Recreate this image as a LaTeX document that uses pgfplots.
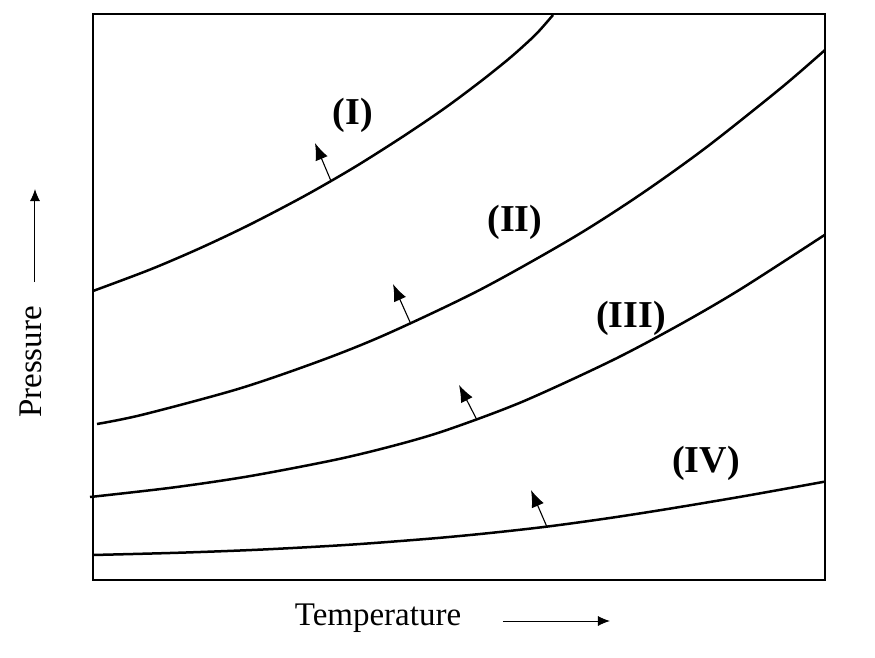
\documentclass[border=0pt]{standalone}
\usepackage{pgfplots}
\pgfplotsset{compat=1.18}
\usepackage{fontspec}
\setmainfont{Liberation Serif}
\usetikzlibrary{arrows.meta}

% curves, in picture pixels (x to the right, y downwards)
\pgfplotstableread{
px py
93 291
150 269.6
200 248.2
250 224.5
305 195.7
355 166.9
405 135.2
445 108
480 81.9
505 62
520 49.1
537 33.2
553 15
}\curveI
\pgfplotstableread{
px py
97 424
143 414.6
240 388.4
323 359.8
388 333.5
480 289.8
573 237.7
640 194.8
706 147.6
781 88
825 50
}\curveII
\pgfplotstableread{
px py
90 497
173 487.5
250 476.1
338 459.2
400 444
448 429.6
522 401.9
612 360.5
680 324.5
741 288.9
825 234.7
}\curveIII
\pgfplotstableread{
px py
93 555
180 552.7
263 549.5
350 544.7
433 538.4
490 533
547 526.6
607 518.4
667 509.1
745 496
825 481.6
}\curveIV

\begin{document}
\begin{tikzpicture}
\begin{axis}[
    scale only axis,
    width=366pt, height=283pt,
    xmin=93, xmax=825,
    ymin=14, ymax=580,
    y dir=reverse,
    xtick=\empty, ytick=\empty,
    axis line style={line width=1.3pt},
    clip=false,
]
\path (axis cs:0,0) rectangle (axis cs:875,658);

\addplot[black, line width=1.25pt, smooth] table[x=px, y=py] {\curveI};
\addplot[black, line width=1.25pt, smooth] table[x=px, y=py] {\curveII};
\addplot[black, line width=1.25pt, smooth] table[x=px, y=py] {\curveIII};
\addplot[black, line width=1.25pt, smooth] table[x=px, y=py] {\curveIV};

\draw[line width=0.55pt, -{Latex[length=8.5pt,width=6.5pt]}] (axis cs:331,181) -- (axis cs:315,143);
\draw[line width=0.55pt, -{Latex[length=8.5pt,width=6.5pt]}] (axis cs:410,322) -- (axis cs:393,284);
\draw[line width=0.55pt, -{Latex[length=8.5pt,width=6.5pt]}] (axis cs:477,420) -- (axis cs:459,385);
\draw[line width=0.55pt, -{Latex[length=8.5pt,width=6.5pt]}] (axis cs:547,527) -- (axis cs:531,490);

\node[font=\fontsize{19}{22}\selectfont\bfseries] at (axis cs:353,115) {(I)};
\node[font=\fontsize{19}{22}\selectfont\bfseries] at (axis cs:515,222) {(II)};
\node[font=\fontsize{19}{22}\selectfont\bfseries] at (axis cs:631,318) {(III)};
\node[font=\fontsize{19}{22}\selectfont\bfseries] at (axis cs:706,463) {(IV)};

\node[font=\fontsize{16.5}{19}\selectfont, anchor=base, inner sep=0pt] at (axis cs:378,625) {Temperature};
\draw[line width=0.5pt, -{Latex[length=6pt,width=5pt]}] (axis cs:503,621) -- (axis cs:610,621);

\node[font=\fontsize{16.5}{19}\selectfont, rotate=90, anchor=base, inner sep=0pt] at (axis cs:42,362) {Pressure};
\draw[line width=0.5pt, -{Latex[length=6pt,width=5pt]}] (axis cs:35,282) -- (axis cs:35,189);
\end{axis}
\end{tikzpicture}
\end{document}
